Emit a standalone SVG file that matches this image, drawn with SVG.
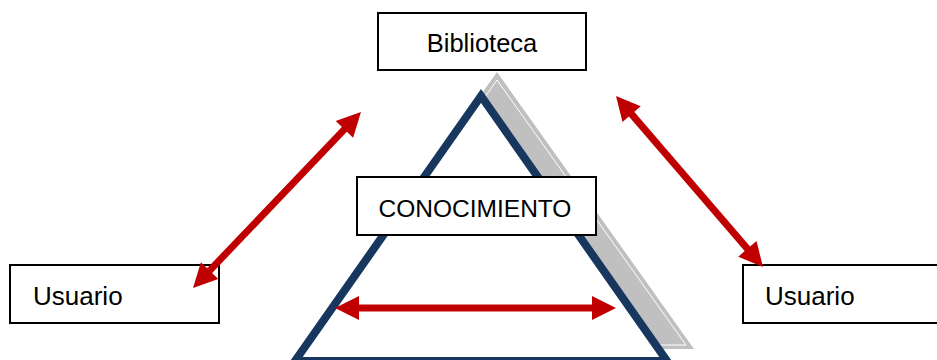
<svg xmlns="http://www.w3.org/2000/svg" width="937" height="360" viewBox="0 0 937 360">
<style>
.box{fill:#fff;stroke:#000;stroke-width:2}
.lbl{font-family:"Liberation Sans",Arial,sans-serif;fill:#000}
.arr{stroke:#C00000;stroke-width:7;fill:none}
</style>
<defs>
<marker id="head" markerUnits="userSpaceOnUse" markerWidth="24" markerHeight="24" refX="12" refY="12" orient="auto-start-reverse" overflow="visible">
<path d="M0,0 L24,12 L0,24 z" fill="#C00000"/>
</marker>
</defs>
<rect width="937" height="360" fill="#fff"/>
<g id="piramide">
<polygon points="497,72 694,349 300,349" fill="#C0C0C0"/>
<polygon points="497,80 686,345 308,345" fill="none" stroke="#fff" stroke-width="1"/>
<polygon points="481,96 295,361 667,361" fill="#fff" stroke="#17375E" stroke-width="8" stroke-linejoin="miter"/>
</g>
<g id="biblioteca">
<rect class="box" x="378" y="13" width="208" height="57"/>
<text class="lbl" x="482" y="52" font-size="25.5" text-anchor="middle">Biblioteca</text>
</g>
<g id="conocimiento">
<rect class="box" x="357" y="177" width="239" height="58"/>
<text class="lbl" x="475" y="217" font-size="24.5" text-anchor="middle">CONOCIMIENTO</text>
</g>
<g id="usuario-izq">
<rect class="box" x="10" y="265" width="209" height="58"/>
<text class="lbl" x="33" y="305" font-size="26">Usuario</text>
</g>
<g id="usuario-der">
<rect class="box" x="743" y="265" width="220" height="58"/>
<text class="lbl" x="765" y="305" font-size="26">Usuario</text>
</g>
<g id="conectores">
<line class="arr" x1="352.7" y1="120.7" x2="201.3" y2="279.3" marker-start="url(#head)" marker-end="url(#head)"/>
<line class="arr" x1="623.8" y1="105.1" x2="755.2" y2="257.9" marker-start="url(#head)" marker-end="url(#head)"/>
<line class="arr" x1="347" y1="308" x2="604" y2="308" marker-start="url(#head)" marker-end="url(#head)"/>
</g>
</svg>
